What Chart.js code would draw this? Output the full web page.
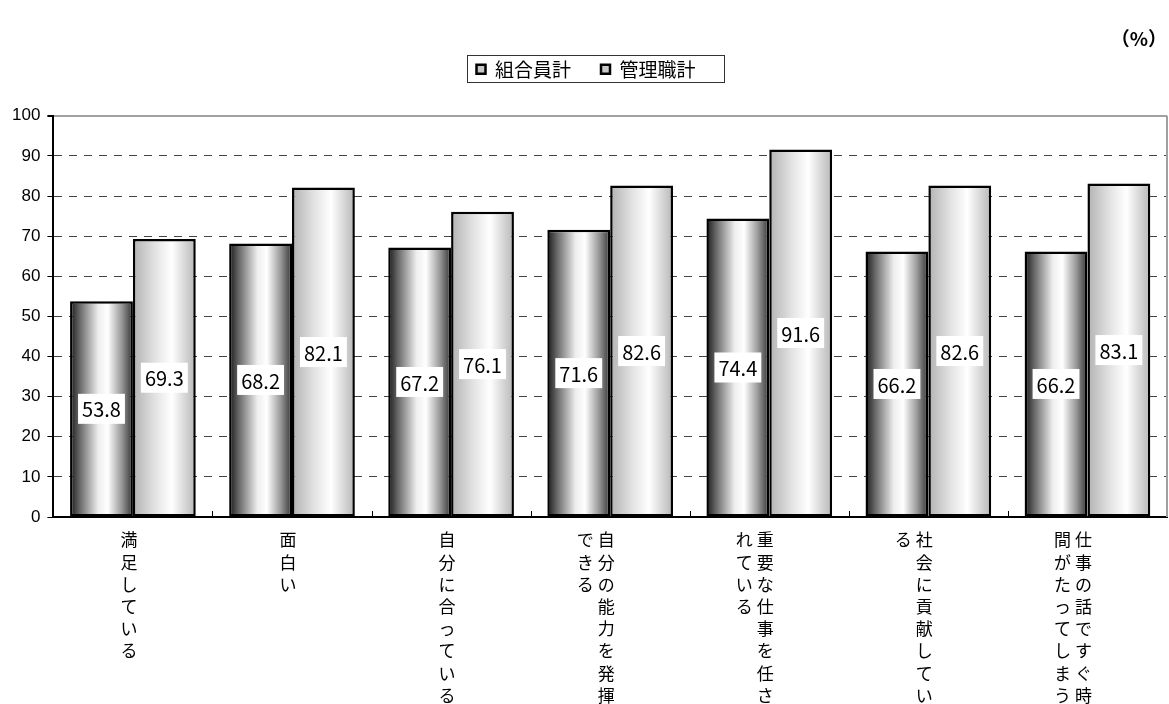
<!DOCTYPE html>
<html lang="ja">
<head>
<meta charset="utf-8">
<title>仕事に対する意識</title>
<script src="https://cdn.jsdelivr.net/npm/chart.js@4/dist/chart.umd.min.js"></script>
<style>
  html, body { margin: 0; padding: 0; background: #fff; }
  #wrap { width: 1169px; height: 704px; position: relative; }
</style>
</head>
<body>
<div id="wrap"><canvas id="chart"></canvas></div>
<script>
// --- data ---------------------------------------------------------------
const categories = [
  '満足している',
  '面白い',
  '自分に合っている',
  '自分の能力を発揮できる',
  '重要な仕事を任されている',
  '社会に貢献している',
  '仕事の話ですぐ時間がたってしまう'
];
const seriesNames = ['組合員計', '管理職計'];
const unionValues   = [53.8, 68.2, 67.2, 71.6, 74.4, 66.2, 66.2];
const managerValues = [69.3, 82.1, 76.1, 82.6, 91.6, 82.6, 83.1];
const yMin = 0, yMax = 100, yStep = 10;
const unitLabel = '（%）';

// --- styling -------------------------------------------------------------
const JP = '"Noto Sans CJK JP", "Noto Sans", sans-serif';
const darkStops  = [[0, '#1a1a1a'], [0.15, '#666666'], [0.45, '#eeeeee'], [0.6, '#ffffff'], [0.82, '#999999'], [1, '#333333']];
const lightStops = [[0, '#b2b2b2'], [0.35, '#e2e2e2'], [0.62, '#ffffff'], [1, '#b6b6b6']];
const CHARS_PER_COL = 8;
const LEGEND_BLOCK = 86;   // legend band height down to the plot top

// extra room under the legend
const legendBand = {
  id: 'legendBand',
  beforeInit(chart) {
    const fit = chart.legend.fit;
    chart.legend.fit = function () {
      fit.call(this);
      this.height = LEGEND_BLOCK;
    };
  }
};

// horizontal cylinder-like shading on each bar
const barShading = {
  id: 'barShading',
  beforeDatasetsDraw(chart) {
    const ctx = chart.ctx;
    chart.data.datasets.forEach((ds, di) => {
      const stops = di === 0 ? darkStops : lightStops;
      chart.getDatasetMeta(di).data.forEach(bar => {
        const g = ctx.createLinearGradient(bar.x - bar.width / 2, 0, bar.x + bar.width / 2, 0);
        stops.forEach(([o, c]) => g.addColorStop(o, c));
        bar.options.backgroundColor = g;
      });
    });
  }
};

// value boxes in the middle of each bar
const valueBoxes = {
  id: 'valueBoxes',
  afterDatasetsDraw(chart) {
    const ctx = chart.ctx;
    ctx.save();
    ctx.font = '20px ' + JP;
    ctx.textAlign = 'center';
    ctx.textBaseline = 'middle';
    chart.data.datasets.forEach((ds, di) => {
      chart.getDatasetMeta(di).data.forEach((bar, i) => {
        const txt = ds.data[i].toFixed(1);
        const cy = (bar.y + bar.base) / 2;
        const w = Math.max(ctx.measureText(txt).width + 8, 44);
        ctx.fillStyle = '#fff';
        ctx.fillRect(bar.x - w / 2, cy - 15, w, 30);
        ctx.fillStyle = '#000';
        ctx.fillText(txt, bar.x, cy + 1);
      });
    });
    ctx.restore();
  }
};

// plot frame, category ticks, vertical category labels, legend frame
const decorations = {
  id: 'decorations',
  afterDraw(chart) {
    const ctx = chart.ctx;
    const { top, bottom, right } = chart.chartArea;
    const x = chart.scales.x;
    ctx.save();

    ctx.strokeStyle = '#a0a0a0';
    ctx.lineWidth = 2;
    ctx.beginPath();
    ctx.moveTo(right, top);
    ctx.lineTo(right, bottom);
    ctx.stroke();

    ctx.strokeStyle = '#000';
    ctx.lineWidth = 1;
    for (let i = 1; i < categories.length; i++) {
      const bx = Math.round((x.getPixelForTick(i - 1) + x.getPixelForTick(i)) / 2) + 0.5;
      ctx.beginPath();
      ctx.moveTo(bx, bottom - 6);
      ctx.lineTo(bx, bottom);
      ctx.stroke();
    }

    // vertical labels, columns read right to left
    ctx.fillStyle = '#000';
    ctx.font = '17px ' + JP;
    ctx.textAlign = 'center';
    ctx.textBaseline = 'middle';
    categories.forEach((label, i) => {
      const chars = Array.from(label);
      const cols = [];
      for (let k = 0; k < chars.length; k += CHARS_PER_COL) cols.push(chars.slice(k, k + CHARS_PER_COL));
      const cx = x.getPixelForTick(i) - 4;
      cols.forEach((col, c) => {
        col.forEach((ch, r) => ctx.fillText(ch, cx - c * 21, bottom + 23 + r * 22.2));
      });
    });

    const boxes = chart.legend.legendHitBoxes;
    if (boxes && boxes.length) {
      const first = boxes[0], last = boxes[boxes.length - 1];
      ctx.strokeStyle = '#333';
      ctx.lineWidth = 1;
      const l = Math.round(first.left - 9) + 0.5;
      const r = Math.round(last.left + last.width + 28) + 0.5;
      const t = Math.round(first.top - 5) + 0.5;
      const b = Math.round(first.top + first.height + 3) + 0.5;
      ctx.strokeRect(l, t, r - l, b - t);
    }
    ctx.restore();
  }
};

new Chart(document.getElementById('chart'), {
  type: 'bar',
  data: {
    labels: categories,
    datasets: [
      {
        label: seriesNames[0],
        data: unionValues,
        backgroundColor: () => '#777',
        borderColor: '#000',
        borderWidth: 2.5,
        borderSkipped: false
      },
      {
        label: seriesNames[1],
        data: managerValues,
        backgroundColor: () => '#ddd',
        borderColor: '#000',
        borderWidth: 2.5,
        borderSkipped: false
      }
    ]
  },
  options: {
    responsive: true,
    maintainAspectRatio: false,
    animation: false,
    devicePixelRatio: 1,
    datasets: { bar: { categoryPercentage: 0.79, barPercentage: 1 } },
    layout: { padding: { left: 5, right: 2, top: 0, bottom: 179 } },
    plugins: {
      title: {
        display: true,
        text: unitLabel,
        align: 'end',
        color: '#000',
        font: { family: JP, size: 19, weight: 'bold' },
        padding: { top: 27, bottom: -20 }
      },
      legend: {
        position: 'top',
        labels: {
          color: '#000',
          font: { family: JP, size: 19 },
          boxWidth: 9,
          boxHeight: 9,
          padding: 30,
          generateLabels(chart) {
            return chart.data.datasets.map((ds, i) => ({
              text: ds.label,
              fillStyle: '#c8c8c8',
              strokeStyle: '#000',
              lineWidth: 2.5,
              hidden: false,
              datasetIndex: i
            }));
          }
        }
      },
      tooltip: { enabled: false }
    },
    scales: {
      x: {
        grid: { display: false },
        ticks: { display: false },
        border: { display: true, color: '#000', width: 2 }
      },
      y: {
        min: yMin,
        max: yMax,
        ticks: {
          stepSize: yStep,
          color: '#000',
          padding: 7,
          font: { family: '"Liberation Sans", Arial, sans-serif', size: 17 }
        },
        grid: {
          color: c => c.index === (yMax - yMin) / yStep ? '#a0a0a0' : '#444',
          lineWidth: c => c.index === (yMax - yMin) / yStep ? 2 : 1,
          tickColor: '#000',
          tickLength: 6,
          drawTicks: true
        },
        border: {
          display: true,
          color: '#000',
          width: 2,
          dash: c => c.index === (yMax - yMin) / yStep ? [] : [8, 7]
        }
      }
    }
  },
  plugins: [legendBand, barShading, valueBoxes, decorations]
});
</script>
</body>
</html>
